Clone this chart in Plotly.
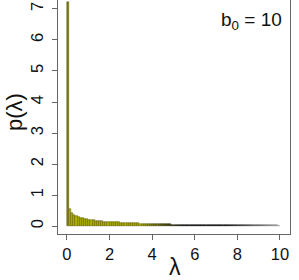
import plotly.graph_objects as go

# Histogram bins (left edges, width 0.1) and density heights
bin_width = 0.1
bin_left = [round(i * 0.1, 1) for i in range(100)]
density = [
    7.23, 0.55, 0.42, 0.36, 0.32, 0.29, 0.27, 0.25, 0.23, 0.21,
    0.20, 0.19, 0.18, 0.17, 0.165, 0.16, 0.15, 0.145, 0.14, 0.135,
    0.13, 0.126, 0.122, 0.118, 0.114, 0.11, 0.106, 0.102, 0.098, 0.095,
    0.092, 0.089, 0.086, 0.083, 0.080, 0.077, 0.074, 0.071, 0.068, 0.065,
    0.063, 0.061, 0.059, 0.057, 0.055, 0.054, 0.053, 0.051, 0.050, 0.048,
    0.047, 0.046, 0.045, 0.044, 0.043, 0.042, 0.041, 0.040, 0.039, 0.038,
    0.037, 0.036, 0.036, 0.035, 0.034, 0.033, 0.033, 0.032, 0.031, 0.030,
    0.030, 0.029, 0.029, 0.028, 0.028, 0.027, 0.027, 0.026, 0.025, 0.025,
    0.024, 0.024, 0.023, 0.023, 0.022, 0.022, 0.021, 0.021, 0.021, 0.020,
    0.020, 0.019, 0.019, 0.019, 0.018, 0.018, 0.017, 0.017, 0.017, 0.016,
]
x_ticks = [0, 2, 4, 6, 8, 10]
y_ticks = [0, 1, 2, 3, 4, 5, 6, 7]
label_text = "b<sub>0</sub> = 10"


def mix(c1, c2, t):
    return "rgb(%d,%d,%d)" % tuple(round(a + (b - a) * t) for a, b in zip(c1, c2))


def bar_colors(x):
    olive_fill, olive_line = (180, 180, 0), (80, 80, 0)
    black, gray = (10, 10, 10), (150, 150, 150)
    if x < 3.5:
        return mix(olive_fill, olive_fill, 0), mix(olive_line, olive_line, 0)
    if x < 5.5:
        t = (x - 3.5) / 2.0
        return mix(olive_fill, black, t), mix(olive_line, black, t)
    if x < 7.5:
        return mix(black, black, 0), mix(black, black, 0)
    t = min((x - 7.5) / 2.5, 1.0)
    return mix(black, gray, t), mix(black, gray, t)


centers = [b + bin_width / 2 for b in bin_left]
fills = [bar_colors(c)[0] for c in centers]
lines = [bar_colors(c)[1] for c in centers]
fills[0] = "rgb(120,120,20)"
lines[0] = "rgb(100,100,15)"

fig = go.Figure()
fig.add_trace(go.Bar(
    x=centers, y=density, width=bin_width,
    marker=dict(color=fills, line=dict(color=lines, width=0.5)),
    showlegend=False, hoverinfo="skip",
))

font = "Liberation Sans, Arial, Helvetica, sans-serif"
fig.update_layout(
    width=299, height=280,
    margin=dict(l=58, r=9, t=0, b=46),
    paper_bgcolor="white", plot_bgcolor="white",
    bargap=0,
    font=dict(family=font, color="#111"),
    xaxis=dict(
        range=[-0.42, 10.47], tickvals=x_ticks, ticktext=[str(v) for v in x_ticks],
        showgrid=False, zeroline=False, showline=True, mirror=False,
        linecolor="#666", linewidth=1, ticks="outside", ticklen=5,
        tickcolor="#666", ticklabelstandoff=0,
        tickfont=dict(size=16.5, family=font, color="#111"),
    ),
    yaxis=dict(
        range=[-0.258, 7.29], tickvals=y_ticks, ticktext=[str(v) for v in y_ticks],
        showgrid=False, zeroline=False, showline=True, mirror=True,
        linecolor="#666", linewidth=1, ticks="outside", ticklen=5,
        tickcolor="#666", tickangle=-90, ticklabelstandoff=2,
        tickfont=dict(size=16.5, family=font, color="#111"),
    ),
    annotations=[
        dict(text="p(λ)", xref="paper", yref="paper", x=(15 - 58) / 232,
             y=(234 - 112) / 234, textangle=-90, showarrow=False,
             font=dict(size=22, family=font, color="#111"),
             xanchor="center", yanchor="middle"),
        dict(text="λ", xref="paper", yref="paper", x=(175 - 58) / 232,
             y=(234 - 267) / 234, showarrow=False,
             font=dict(size=23, family=font, color="#111"),
             xanchor="center", yanchor="middle"),
        dict(text=label_text, xref="paper", yref="paper", x=(284 - 58) / 232,
             y=(234 - 21) / 234, showarrow=False,
             font=dict(size=19, family=font, color="#111"),
             xanchor="right", yanchor="middle"),
    ],
)

fig.write_html(
    "out.html",
    config={"displayModeBar": False},
    post_script="document.body.style.margin='0';document.body.style.overflow='hidden';",
)
